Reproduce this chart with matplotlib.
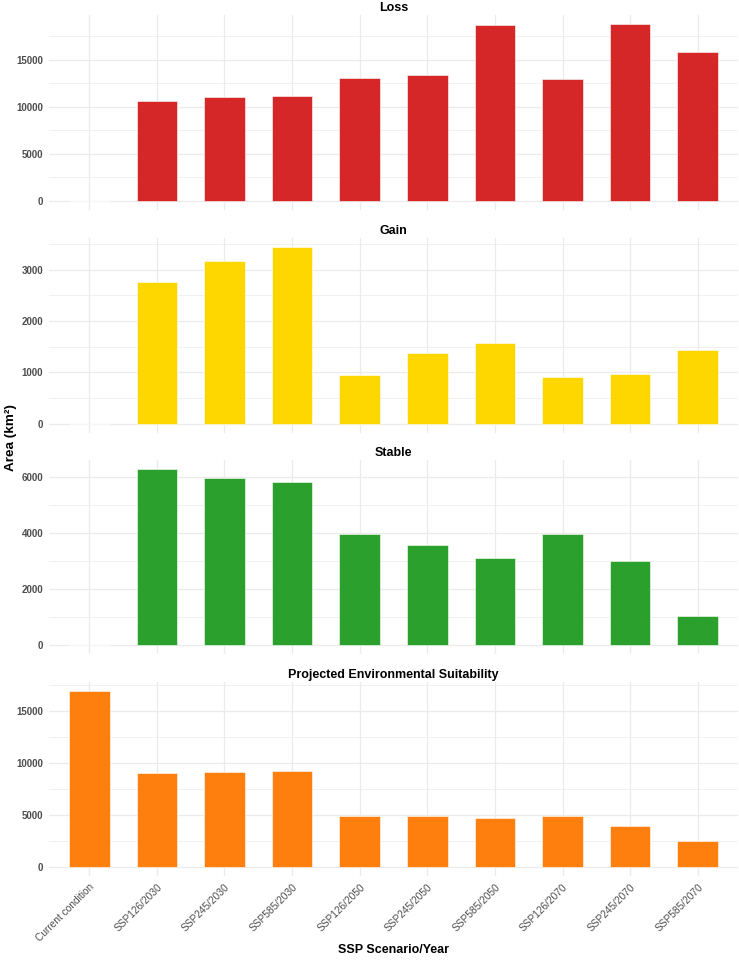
import numpy as np
import matplotlib
matplotlib.use("Agg")
import matplotlib.pyplot as plt
from matplotlib.ticker import FixedLocator

plt.rcParams["font.family"] = ["Liberation Sans", "DejaVu Sans"]

categories = ["Current condition", "SSP126/2030", "SSP245/2030", "SSP585/2030",
              "SSP126/2050", "SSP245/2050", "SSP585/2050",
              "SSP126/2070", "SSP245/2070", "SSP585/2070"]

loss = [np.nan, 10650, 11000, 11120, 13020, 13350, 18650, 12980, 18780, 15880]
gain = [np.nan, 2760, 3170, 3440, 940, 1370, 1570, 910, 960, 1430]
stable = [np.nan, 6310, 5960, 5830, 3960, 3600, 3130, 3980, 3030, 1050]
pes = [16920, 9050, 9120, 9280, 4890, 4960, 4730, 4890, 4000, 2500]

panel_titles = ["Loss", "Gain", "Stable", "Projected Environmental Suitability"]
panel_colors = ["#D62728", "#FFD700", "#2CA02C", "#FF7F0E"]
panel_ticks = [[0, 5000, 10000, 15000], [0, 1000, 2000, 3000],
               [0, 2000, 4000, 6000], [0, 5000, 10000, 15000]]
panel_minor = [[2500, 7500, 12500, 17500], [500, 1500, 2500, 3500],
               [1000, 3000, 5000], [2500, 7500, 12500, 17500]]
series = [loss, gain, stable, pes]

W, H = 739, 960
fig = plt.figure(figsize=(W / 100, H / 100), dpi=100)
fig.patch.set_facecolor("white")

left_px, right_px = 48.7, 738.3
tops_px = [15.4, 238.2, 459.8, 681.9]
panel_h = 194.4

x = np.arange(len(categories))
grid_col = "#EBEBEB"

for i, (vals, title, col) in enumerate(zip(series, panel_titles, panel_colors)):
    top = tops_px[i]
    ax = fig.add_axes([left_px / W, 1 - (top + panel_h) / H,
                       (right_px - left_px) / W, panel_h / H])
    v = np.array(vals, dtype=float)
    ax.bar(x, np.nan_to_num(v), width=0.6, color=col, edgecolor="#FFFFFF",
           linewidth=0.4, zorder=3)
    vmax = np.nanmax(v)
    ax.set_ylim(-0.05 * vmax, 1.05 * vmax)
    ax.set_xlim(-0.6, len(categories) - 1 + 0.6)
    ax.yaxis.set_major_locator(FixedLocator(panel_ticks[i]))
    ax.yaxis.set_minor_locator(FixedLocator(panel_minor[i]))
    ax.set_xticks(x)
    ax.grid(True, which="major", axis="both", color=grid_col, linewidth=0.9, zorder=0)
    ax.grid(True, which="minor", axis="y", color=grid_col, linewidth=0.5, zorder=0)
    for s in ax.spines.values():
        s.set_visible(False)
    ax.tick_params(axis="both", which="both", length=0)
    ax.tick_params(axis="y", labelsize=7, labelcolor="#4D4D4D", pad=4)
    ax.set_yticklabels([str(t) for t in panel_ticks[i]], fontweight="bold")
    if i < 3:
        ax.set_xticklabels([])
    else:
        ax.set_xticklabels(categories, rotation=45, ha="right", va="top",
                           rotation_mode="anchor", fontsize=7.3,
                           color="#4D4D4D")
        ax.tick_params(axis="x", pad=4)
    ax.set_title(title, fontsize=9, fontweight="bold", pad=3)

fig.text(11 / W, 1 - 438 / H, "Area (km²)", rotation=90, ha="center", va="center",
         fontsize=9.7, fontweight="bold")
fig.text((left_px + right_px) / 2 / W, 1 - 950 / H, "SSP Scenario/Year",
         ha="center", va="center", fontsize=9, fontweight="bold")

fig.savefig("out.png", dpi=100, facecolor="white")
